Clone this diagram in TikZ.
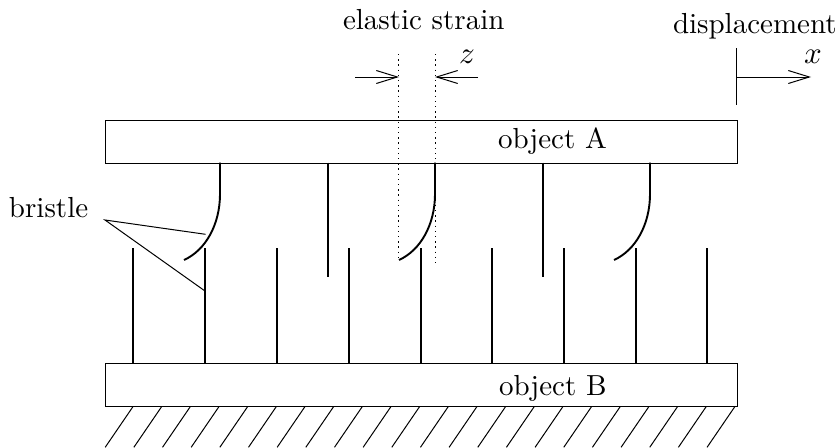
\documentclass[tikz,border=0pt]{standalone}
\usetikzlibrary{arrows.meta}
\font\lmten="[lmroman10-regular]" at 29pt
\font\mathit=cmmi10 at 31pt
\tikzset{
  lab/.style={inner sep=0pt,outer sep=0pt,anchor=base west,font=\lmten},
  mlab/.style={inner sep=0pt,outer sep=0pt,anchor=base west,font=\mathit},
  body/.style={draw,line width=1.2pt},
  bristle/.style={line width=1.9pt},
  thin/.style={line width=1pt},
  dots/.style={line width=1.2pt,dash pattern=on 1.4pt off 3.8pt},
  arr/.style={line width=1pt,-{Straight Barb[length=21pt,width=13pt,line width=1pt]}},
}
\begin{document}
\begin{tikzpicture}[x=1pt,y=-1pt]
\useasboundingbox (0,0) rectangle (837,447);
\node[body,minimum width=632pt,minimum height=42.5pt,inner sep=0pt,anchor=north west] (A) at (105,120) {};
\node[body,minimum width=632pt,minimum height=43pt,inner sep=0pt,anchor=north west] (B) at (105,363) {};
\node[lab] (ta) at (498,148) {object A};
\node[lab] (tb) at (499,395) {object B};
\node[lab] (tbr) at (9,217) {bristle};
\node[lab] (tel) at (343,29) {elastic strain};
\node[lab] (tdi) at (673,33) {displacement};
\node[mlab] (tz) at (459,63) {z};
\node[mlab] (tx) at (804,63) {x};
% bottom bristles
\foreach \i/\xx in {1/133,2/205,3/277,4/349,5/421,6/492,7/564,8/636,9/707}{
  \coordinate (bb\i) at (\xx,363);
  \coordinate (bt\i) at (\xx,248);
  \draw[bristle] (bb\i) -- (bt\i);
}
% straight top bristles
\foreach \i/\xx in {1/328,2/543}{
  \coordinate (st\i) at (\xx,162.5);
  \coordinate (se\i) at (\xx,277);
  \draw[bristle] (st\i) -- (se\i);
}
% bent top bristles
\foreach \i/\xx in {1/220,2/435,3/650}{
  \coordinate (ct\i) at (\xx,162.5);
  \coordinate (cm\i) at (\xx,194);
  \coordinate (ca\i) at (\xx,224);
  \coordinate (cb\i) at ({\xx-14},250);
  \coordinate (ce\i) at ({\xx-36},260);
  \draw[bristle] (ct\i) -- (cm\i) .. controls (ca\i) and (cb\i) .. (ce\i);
}
% dotted
\coordinate (d1t) at (398.5,54); \coordinate (d1b) at (398.5,261);
\coordinate (d2t) at (435.5,54); \coordinate (d2b) at (435.5,263);
\draw[dots] (d1t) -- (d1b);
\draw[dots] (d2t) -- (d2b);
% arrows
\coordinate (al) at (355,77); \coordinate (alt) at (399,77);
\coordinate (ar) at (478,77); \coordinate (art) at (435,77);
\draw[arr] (al) -- (alt);
\draw[arr] (ar) -- (art);
\coordinate (dt) at (736,48); \coordinate (db) at (736,105);
\draw[thin] (dt) -- (db);
\coordinate (dm) at (736,77); \coordinate (dme) at (811,77);
\draw[arr] (dm) -- (dme);
% leaders
\coordinate (l0) at (105,220); \coordinate (l1) at (205.5,234.3); \coordinate (l2) at (205,291);
\draw[thin] (l1) -- (l0) -- (l2);
% hatch
\begin{scope}
\clip (0,0) rectangle (837,447);
\foreach \k in {0,...,21}{
  \coordinate (h\k) at ({133.2+28.66*\k},406.3);
  \draw[thin] (h\k) -- ++(-28,41);
}
\end{scope}
\end{tikzpicture}
\end{document}
